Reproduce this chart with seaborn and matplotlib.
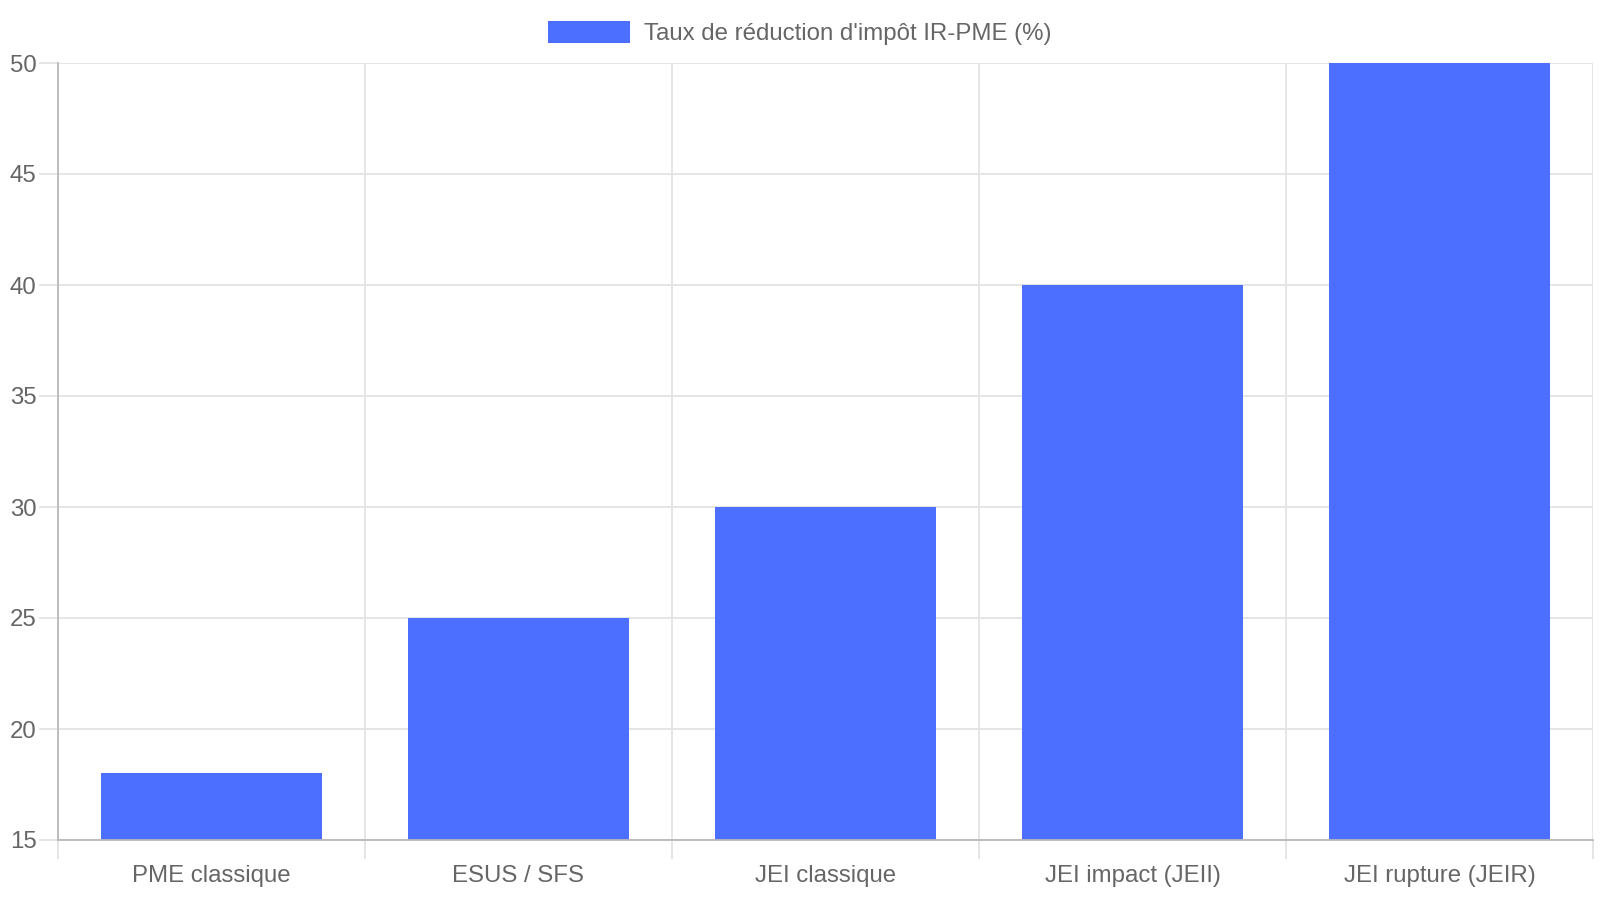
import numpy as np
import matplotlib
matplotlib.use("Agg")
import matplotlib.pyplot as plt
import seaborn as sns
from matplotlib.ticker import FixedLocator

categories = ["PME classique", "ESUS / SFS", "JEI classique", "JEI impact (JEII)", "JEI rupture (JEIR)"]
taux = [18, 25, 30, 40, 50]
y_ticks = [15, 20, 25, 30, 35, 40, 45, 50]
serie_label = "Taux de réduction d'impôt IR-PME (%)"

BAR_COLOR = "#4d6fff"
TEXT_COLOR = "#666666"
GRID_COLOR = "#e3e3e3"
AXIS_COLOR = "#b8b8b8"
FS = 17.3

sns.set_style("white")
plt.rcParams["font.family"] = ["Liberation Sans", "DejaVu Sans"]

fig = plt.figure(figsize=(16, 9), dpi=100)
ax = fig.add_axes([58 / 1600, 1 - 840 / 900, (1593 - 58) / 1600, (840 - 63) / 900])

sns.barplot(x=categories, y=taux, color=BAR_COLOR, width=0.72, saturation=1,
            label=serie_label, ax=ax, linewidth=0, zorder=3)

ax.set_ylim(15, 50)
ax.set_xlim(-0.5, len(categories) - 0.5)
ax.set_yticks(y_ticks)

# grid lines between categories (chart.js style)
ax.xaxis.set_minor_locator(FixedLocator(np.arange(-0.5, len(categories), 1.0)))
ax.grid(True, which="minor", axis="x", color=GRID_COLOR, linewidth=1.3, zorder=0)
ax.grid(True, which="major", axis="y", color=GRID_COLOR, linewidth=1.3, zorder=0)
ax.grid(False, which="major", axis="x")
ax.set_axisbelow(True)

ax.tick_params(axis="x", which="major", bottom=True, length=0, pad=18,
               labelsize=FS, labelcolor=TEXT_COLOR)
ax.tick_params(axis="x", which="minor", bottom=True, length=13.5, width=1.3, color=GRID_COLOR)
ax.tick_params(axis="y", which="major", left=True, length=13.5, width=1.3, color=GRID_COLOR,
               pad=2, labelsize=FS, labelcolor=TEXT_COLOR)
# the tick under the y axis takes the axis colour
ax.xaxis.get_minor_ticks()[0].tick1line.set_color(AXIS_COLOR)

for side in ["top", "right"]:
    ax.spines[side].set_visible(False)
for side in ["left", "bottom"]:
    ax.spines[side].set_color(AXIS_COLOR)
    ax.spines[side].set_linewidth(1.3)
    ax.spines[side].set_zorder(4)

ax.set_xlabel("")
ax.set_ylabel("")

handles, labels = ax.get_legend_handles_labels()
if ax.get_legend() is not None:
    ax.get_legend().remove()
fig.legend(handles, labels, loc="upper center", bbox_to_anchor=(0.5, 1 - 21 / 900), frameon=False,
           fontsize=FS, handlelength=3.4, handleheight=1.0, handletextpad=0.6,
           labelcolor=TEXT_COLOR, borderaxespad=0, borderpad=0)

fig.savefig("out.png", dpi=100, facecolor="white")
